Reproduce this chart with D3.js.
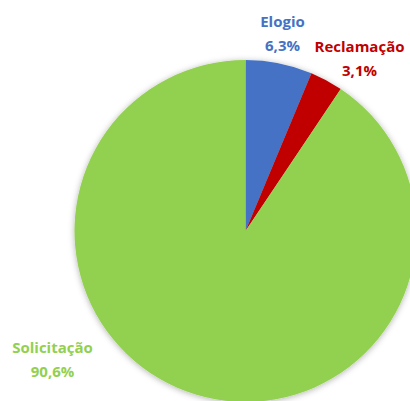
<!DOCTYPE html>
<html>
<head>
<meta charset="utf-8">
<script src="https://cdn.jsdelivr.net/npm/d3@7"></script>
<style>
  html, body { margin: 0; padding: 0; background: #fff; }
  svg { display: block; }
  .lbl { font-family: "Open Sans", "Liberation Sans", sans-serif; font-weight: 700; font-size: 15px; }
</style>
</head>
<body>
<svg id="chart" width="410" height="401"></svg>
<script>
// data
const categories = ["Elogio", "Reclamação", "Solicitação"];
const values = [6.3, 3.1, 90.6];
const labels = ["6,3%", "3,1%", "90,6%"];
const colors = ["#4472C4", "#C00000", "#92D050"];

// label placement relative to pie centre (Excel "best fit" style)
const label_offsets = [[37, -204], [114, -179], [-193, 122]];

const svg = d3.select("#chart");
const cx = 245.5, cy = 231, radius = 171;

const defs = svg.append("defs");
const shadow = defs.append("filter")
  .attr("id", "shadow")
  .attr("x", "-20%").attr("y", "-20%")
  .attr("width", "140%").attr("height", "140%");
shadow.append("feDropShadow")
  .attr("dx", 0).attr("dy", 1)
  .attr("stdDeviation", 3)
  .attr("flood-color", "#000")
  .attr("flood-opacity", 0.3);

const pie = d3.pie().sort(null).value((d) => d.value);
const arc = d3.arc().innerRadius(0).outerRadius(radius);

const rows = categories.map((c, i) => ({ name: c, value: values[i], label: labels[i], color: colors[i] }));

const g = svg.append("g").attr("transform", `translate(${cx}, ${cy})`);

g.append("g")
  .attr("filter", "url(#shadow)")
  .selectAll("path")
  .data(pie(rows))
  .join("path")
  .attr("d", arc)
  .attr("fill", (d) => d.data.color);

const text = g.selectAll("text.lbl")
  .data(pie(rows))
  .join("text")
  .attr("class", "lbl")
  .attr("text-anchor", "middle")
  .attr("fill", (d) => d.data.color)
  .attr("transform", (d, i) => `translate(${label_offsets[i][0]}, ${label_offsets[i][1]})`);

text.append("tspan").attr("x", 0).attr("y", 0).text((d) => d.data.name);
text.append("tspan").attr("x", 0).attr("dy", 23.5).text((d) => d.data.label);
</script>
</body>
</html>
